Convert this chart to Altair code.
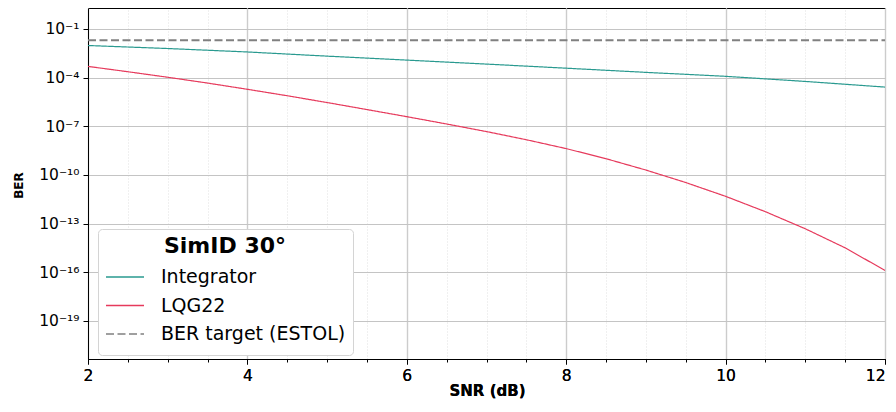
import altair as alt
import pandas as pd

# ---- data ----
snr_int = [2, 3, 4, 5, 6, 7, 8, 9, 10, 11, 12]
ber_int = [9.5e-3, 6.2e-3, 3.8e-3, 2.1e-3, 1.2e-3, 6.8e-4, 3.8e-4, 2.1e-4, 1.2e-4, 5.8e-5, 2.6e-5]

snr_lqg = [2.0, 2.5, 3.0, 3.5, 4.0, 4.5, 5.0, 5.5, 6.0, 6.5, 7.0,
           7.5, 8.0, 8.5, 9.0, 9.5, 10.0, 10.5, 11.0, 11.5, 12.0]
ber_lqg = [4.9e-4, 2.3e-4, 1.05e-4, 4.6e-5, 1.9e-5, 7.6e-6, 2.9e-6, 1.07e-6, 3.9e-7, 1.38e-7, 4.7e-8,
           1.48e-8, 4.2e-9, 1.0e-9, 2.0e-10, 3.4e-11, 4.8e-12, 5.4e-13, 4.8e-14, 3.2e-15, 1.3e-16]

snr_target = [2, 12]
ber_target = [0.02, 0.02]

series_names = ["Integrator", "LQG22", "BER target (ESTOL)"]
series_colors = ["#2a9a90", "#e63a5c", "#808080"]
series_dash = [[1, 0], [1, 0], [8, 3.5]]

x_major = [2, 4, 6, 8, 10, 12]
x_minor = [2.5, 3, 3.5, 4.5, 5, 5.5, 6.5, 7, 7.5, 8.5, 9, 9.5, 10.5, 11, 11.5]
y_ticks = [1e-1, 1e-4, 1e-7, 1e-10, 1e-13, 1e-16, 1e-19]
y_domain = [4.5e-22, 1.95]

sup = str.maketrans("0123456789-", "⁰¹²³⁴⁵⁶⁷⁸⁹⁻")
exp_labels = ["10" + str(-k).translate(sup) for k in range(0, 23)]
label_expr = "[" + ",".join("'%s'" % s for s in exp_labels) + "][round(-log(datum.value)/LN10)]"

rows = []
for s, b in zip(snr_int, ber_int):
    rows.append({"snr": s, "ber": b, "series": "Integrator"})
for s, b in zip(snr_lqg, ber_lqg):
    rows.append({"snr": s, "ber": b, "series": "LQG22"})
df = pd.DataFrame(rows)
df_target = pd.DataFrame({"snr": snr_target, "ber": ber_target,
                          "series": ["BER target (ESTOL)"] * len(snr_target)})
df_minor = pd.DataFrame({"m": x_minor})

FONT = "DejaVu Sans"
W, H = 797, 351

xscale = alt.Scale(domain=[2, 12], nice=False, zero=False)
yscale = alt.Scale(type="log", domain=y_domain, nice=False)

color_enc = alt.Color(
    "series:N", scale=alt.Scale(domain=series_names, range=series_colors),
    legend=alt.Legend(title="SimID 30°", orient="none", legendX=10, legendY=221,
                      titleFontSize=22, titleFontWeight="bold",
                      titleAnchor="middle", titleColor="black",
                      labelFontSize=19, labelColor="black", labelLimit=400,
                      symbolType="stroke", symbolSize=1444, symbolStrokeWidth=1.6,
                      fillColor="white", strokeColor="#d4d4d4",
                      cornerRadius=4, padding=7, rowPadding=0.5, clipHeight=28,
                      titlePadding=5, labelOffset=16))
dash_enc = alt.StrokeDash("series:N", scale=alt.Scale(domain=series_names, range=series_dash))

x_axis = alt.Axis(values=x_major, orient="bottom", title="SNR (dB)", format="d",
                  grid=True, gridColor="#cccccc", gridWidth=1.2,
                  tickSize=5, labelFontSize=15.5, labelPadding=4,
                  labelAlign={"condition": {"test": "datum.value >= 12", "value": "right"},
                              "value": "center"},
                  labelFlush=False, labelOverlap=False, labelBound=False,
                  titleFontSize=15, titleFontWeight="bold",
                  titleX=399, titleY=36, titleAlign="center",
                  titleBaseline="alphabetic")
y_axis = alt.Axis(values=y_ticks, title="BER", labelExpr=label_expr,
                  grid=True, gridColor="#c4c4c4", gridWidth=1,
                  tickSize=5, labelFontSize=15.5, labelPadding=4,
                  labelFlush=False, labelOverlap=False,
                  titleFontSize=12, titleFontWeight="bold",
                  titleX=-70, titleY=177, titleAngle=270,
                  titleAlign="center", titleBaseline="middle")

# minor grid / minor ticks layer
minor = alt.Chart(df_minor).mark_rule(opacity=0).encode(
    x=alt.X("m:Q", scale=xscale,
            axis=alt.Axis(values=x_minor, orient="bottom", labels=False, domain=False,
                          title=None, tickSize=3, tickColor="black", grid=True,
                          gridDash=[1, 2], gridColor="#d9d9d9", gridWidth=0.8)),
)

lines = alt.Chart(df).mark_line(clip=True, strokeWidth=1.2).encode(
    x=alt.X("snr:Q", scale=xscale, axis=x_axis),
    y=alt.Y("ber:Q", scale=yscale, axis=y_axis),
    color=color_enc,
    strokeDash=dash_enc,
)

target = alt.Chart(df_target).mark_line(clip=True, strokeWidth=2.2).encode(
    x=alt.X("snr:Q", scale=xscale, axis=x_axis),
    y=alt.Y("ber:Q", scale=yscale, axis=y_axis),
    color=color_enc,
    strokeDash=dash_enc,
)

chart = alt.layer(minor, lines, target).resolve_axis(x="independent").properties(
    width=W, height=H,
    autosize=alt.AutoSizeParams(type="none"),
    padding={"left": 80, "top": 0, "right": 3, "bottom": 40},
).configure(font=FONT).configure_view(
    stroke="black", strokeWidth=1
).configure_axis(
    domainColor="black", tickColor="black", labelColor="black", titleColor="black",
    labelFont=FONT, titleFont=FONT
).configure_legend(labelFont=FONT, titleFont=FONT)

chart.save("out.html", embed_options={"renderer": "svg", "actions": False})
